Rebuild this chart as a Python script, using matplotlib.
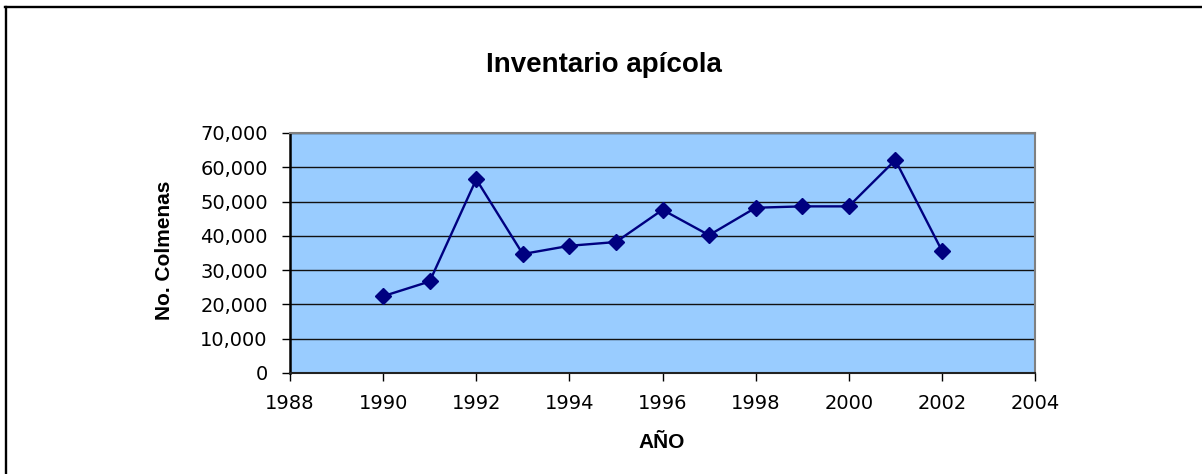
import matplotlib
matplotlib.use("Agg")
import matplotlib.pyplot as plt
from matplotlib.ticker import FuncFormatter, MultipleLocator
from matplotlib.lines import Line2D

# Data
years = [1990, 1991, 1992, 1993, 1994, 1995, 1996, 1997, 1998, 1999, 2000, 2001, 2002]
colmenas = [22400, 26700, 56500, 34700, 37100, 38200, 47600, 40200, 48200, 48600, 48600, 62100, 35700]
title_text = "Inventario apícola"
ylabel_text = "No. Colmenas"
xlabel_text = "AÑO"

W, H = 1202, 474
fig = plt.figure(figsize=(W / 100, H / 100), dpi=100)
fig.patch.set_facecolor("white")

left, right, top, bottom = 290, 1035, 133, 373
ax = fig.add_axes([left / W, 1 - bottom / H, (right - left) / W, (bottom - top) / H])
ax.set_facecolor("#99CCFF")

ax.plot(years, colmenas, color="#000080", lw=1.7, marker="D", ms=8.5,
        mfc="#000080", mec="#000080", zorder=3)

ax.set_xlim(1988, 2004)
ax.set_ylim(0, 70000)
ax.xaxis.set_major_locator(MultipleLocator(2))
ax.yaxis.set_major_locator(MultipleLocator(10000))
ax.yaxis.set_major_formatter(FuncFormatter(lambda v, p: f"{v:,.0f}"))
ax.xaxis.set_major_formatter(FuncFormatter(lambda v, p: f"{v:.0f}"))

ax.grid(axis="y", color="#111111", lw=1.0, zorder=1)
ax.set_axisbelow(True)

ax.tick_params(axis="both", direction="out", length=6, width=1.0, color="black",
               labelsize=14, labelcolor="black")
ax.tick_params(axis="y", pad=10)
ax.tick_params(axis="x", pad=9)
for lbl in ax.get_xticklabels() + ax.get_yticklabels():
    lbl.set_family("DejaVu Sans")

ax.spines["left"].set_color("black")
ax.spines["left"].set_linewidth(1.8)
ax.spines["bottom"].set_color("#222222")
ax.spines["bottom"].set_linewidth(1.5)
ax.spines["top"].set_color("#808080")
ax.spines["top"].set_linewidth(1.5)
ax.spines["right"].set_color("#808080")
ax.spines["right"].set_linewidth(1.5)

fig.text(603.5 / W, 1 - 72.3 / H, title_text, ha="center", va="baseline",
         fontsize=20, fontweight="bold", family=["Liberation Sans", "DejaVu Sans"])
fig.text(662 / W, 1 - 448 / H, xlabel_text, ha="center", va="baseline",
         fontsize=15, fontweight="bold", family=["Liberation Sans", "DejaVu Sans"])
fig.text(165 / W, 1 - 250 / H, ylabel_text, ha="center", va="center", rotation=90,
         fontsize=15, fontweight="bold", family=["Liberation Sans", "DejaVu Sans"])

# Outer chart frame (top and left edges visible)
fig.add_artist(Line2D([6 / W, 6 / W], [0, 1 - 7 / H], transform=fig.transFigure,
                      color="black", lw=1.7))
fig.add_artist(Line2D([5.2 / W, 1], [1 - 7.3 / H, 1 - 7.3 / H], transform=fig.transFigure,
                      color="black", lw=1.7))

fig.savefig("out.png", dpi=100, facecolor="white")
